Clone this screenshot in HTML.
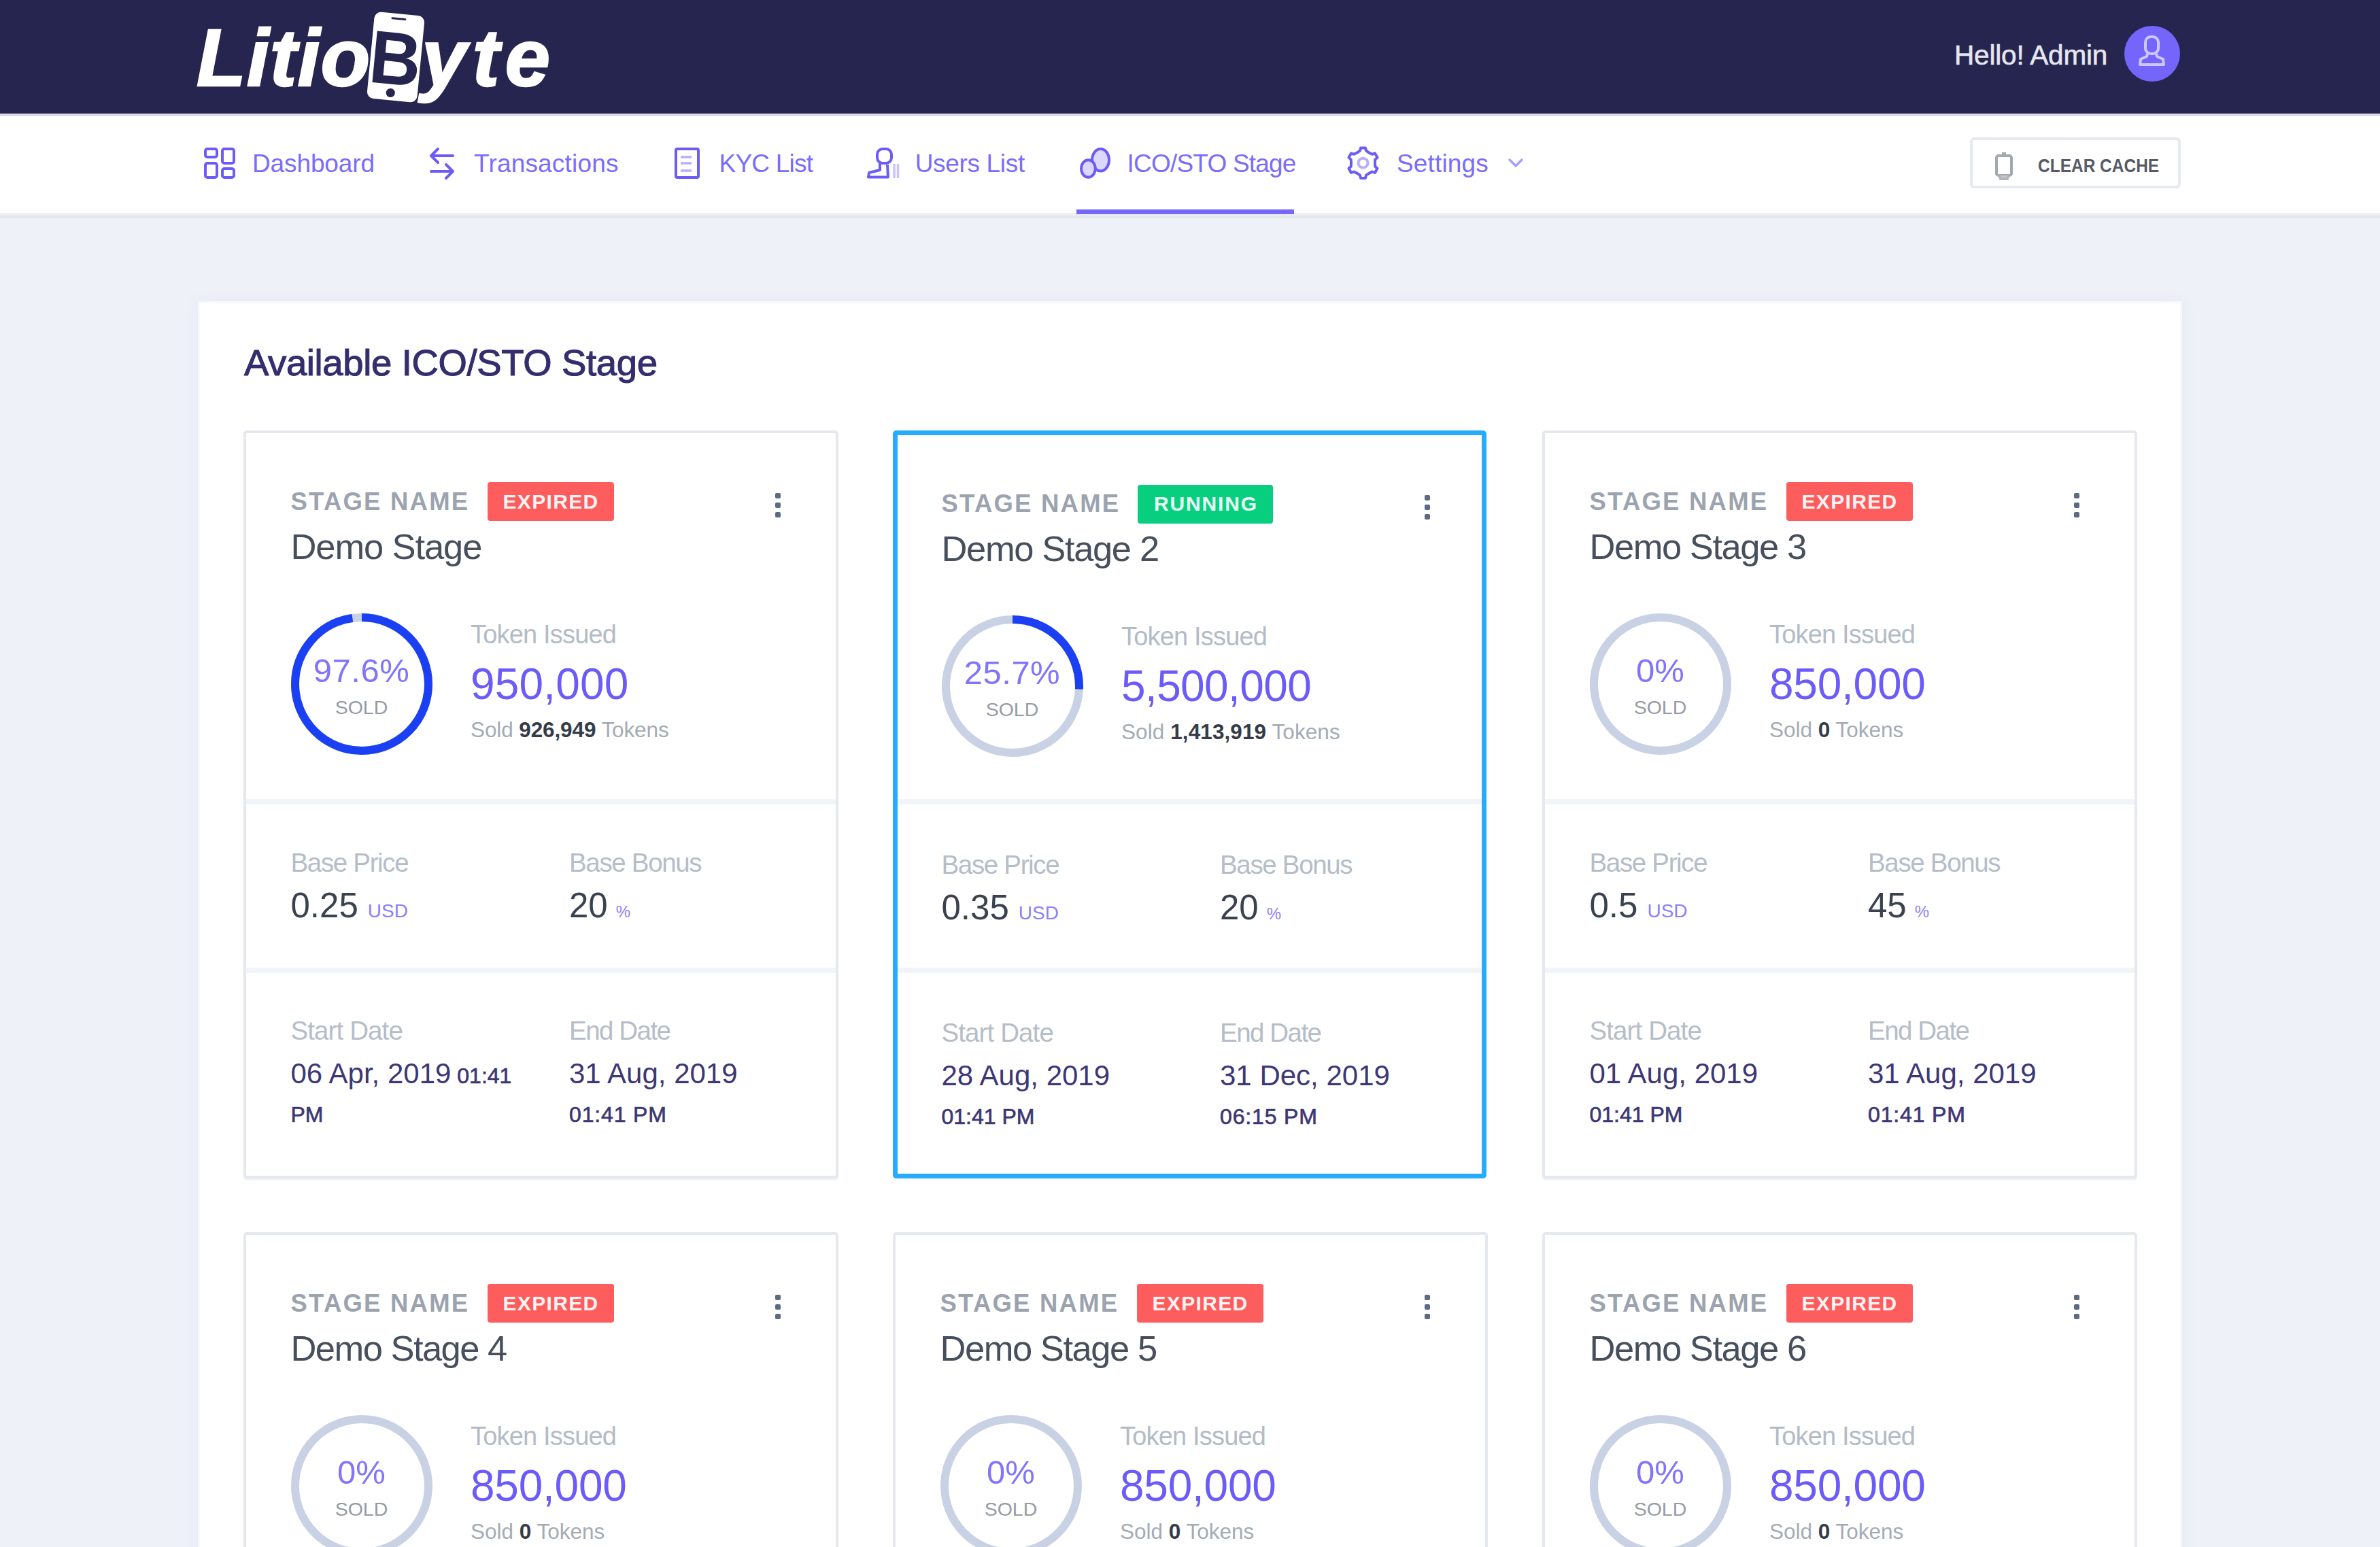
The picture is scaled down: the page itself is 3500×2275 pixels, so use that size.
<!DOCTYPE html>
<html><head><meta charset="utf-8"><title>ICO/STO Stage</title>
<style>
html,body{margin:0;padding:0}
body{width:3500px;height:2275px;overflow:hidden;position:relative;background:#eef1f8;font-family:"Liberation Sans",Arial,sans-serif}
.t{position:absolute;white-space:nowrap;line-height:1}
.t b{font-weight:700}
.logo{position:absolute;white-space:nowrap;line-height:1;font-family:"Liberation Sans",Arial,sans-serif;font-weight:700;font-style:italic;color:#fff;font-size:119px;letter-spacing:0px}
svg{overflow:visible}
</style></head><body>
<div style="position:absolute;left:0;top:0;width:3500px;height:167px;background:#25254f"></div>
<div style="position:absolute;left:0;top:167px;width:3500px;height:4px;background:#dcdbe2"></div>
<div style="position:absolute;left:0;top:171px;width:3500px;height:142px;background:#fff"></div>
<div style="position:absolute;left:0;top:313px;width:3500px;height:4px;background:#edeff4"></div>
<div style="position:absolute;left:0;top:317px;width:3500px;height:4px;background:#e4e6ec"></div>
<div class="t" id="lg1" style="left:289.0px;top:25.3px;font-size:119px;color:#fff;letter-spacing:1.000px;font-weight:700;font-style:italic;-webkit-text-stroke:2.5px #fff;">Litio</div>
<svg style="position:absolute;left:532px;top:12px" width="100" height="144" viewBox="0 0 100 144">
 <g transform="rotate(5.5 50 72)">
  <rect x="13" y="8" width="74" height="128" rx="10" fill="#fff"/>
  <rect x="38" y="14" width="22" height="3" rx="1.5" fill="#25254f"/>
  <circle cx="47.3" cy="125" r="6.6" fill="#25254f"/>
  <text x="50" y="112" text-anchor="middle" font-family="Liberation Sans, sans-serif" font-weight="700" font-size="110" fill="#25254f" transform="scale(0.95 1)" style="transform-origin:50px 72px">B</text>
 </g>
</svg>
<div class="t" id="lg2" style="left:620.0px;top:25.3px;font-size:119px;color:#fff;letter-spacing:8.500px;font-weight:700;font-style:italic;-webkit-text-stroke:2.5px #fff;">yte</div>
<div class="t" id="hello" style="left:2874.0px;top:60.7px;font-size:40.5px;color:#e6e6ef;letter-spacing:-0.182px;-webkit-text-stroke:0.6px #e6e6ef;">Hello! Admin</div>
<div style="position:absolute;left:3124px;top:38px;width:82px;height:82px;border-radius:50%;background:#7466fb"></div>
<svg style="position:absolute;left:3124px;top:38px" width="82" height="82" viewBox="0 0 82 82">
 <rect x="31" y="16" width="19" height="25" rx="8" fill="none" stroke="#cdc8ff" stroke-width="4"/>
 <path d="M34 41 L33 45 L24 49 L23 57 L58 57 L57 49 L48 45 L47 41" fill="none" stroke="#cdc8ff" stroke-width="4" stroke-linejoin="round"/>
</svg>
<div class="t" id="n_dash" style="left:371.0px;top:221.7px;font-size:37px;color:#7a6cfc;letter-spacing:-0.125px;">Dashboard</div>
<div class="t" id="n_tran" style="left:697.0px;top:221.7px;font-size:37px;color:#7a6cfc;letter-spacing:0.182px;">Transactions</div>
<div class="t" id="n_kyc" style="left:1057.5px;top:221.7px;font-size:37px;color:#7a6cfc;letter-spacing:-0.786px;">KYC List</div>
<div class="t" id="n_user" style="left:1345.7px;top:221.7px;font-size:37px;color:#7a6cfc;letter-spacing:-0.333px;">Users List</div>
<div class="t" id="n_ico" style="left:1657.5px;top:221.7px;font-size:37px;color:#7a6cfc;letter-spacing:-0.792px;">ICO/STO Stage</div>
<div class="t" id="n_set" style="left:2054.0px;top:221.7px;font-size:37px;color:#7a6cfc;letter-spacing:0.143px;">Settings</div>
<svg style="position:absolute;left:290px;top:205px" width="70" height="70" viewBox="0 0 70 70" fill="none" stroke="#6c5cf7" stroke-width="4">
 <rect x="12" y="14" width="17" height="12" rx="3"/>
 <rect x="37" y="14" width="17" height="21" rx="3"/>
 <rect x="12" y="35" width="17" height="21" rx="3"/>
 <rect x="37" y="43" width="17" height="13" rx="3"/>
</svg>
<svg style="position:absolute;left:620px;top:205px" width="60" height="70" viewBox="0 0 60 70" fill="none" stroke="#6c5cf7" stroke-width="4" stroke-linecap="round" stroke-linejoin="round">
 <path d="M15 24 H46"/><path d="M24 14 L14 24 L24 34"/>
 <path d="M14 47 H45"/><path d="M36 37 L46 47 L36 57"/>
</svg>
<svg style="position:absolute;left:980px;top:205px" width="60" height="70" viewBox="0 0 60 70" fill="none" stroke="#6c5cf7" stroke-width="4">
 <rect x="14" y="14" width="33" height="42" rx="2"/>
 <path d="M21 26 H37 M21 35 H37 M21 46 H37" stroke="#b7affc" stroke-width="3.5"/>
</svg>
<svg style="position:absolute;left:1265px;top:205px" width="70" height="70" viewBox="0 0 70 70" fill="none" stroke="#6c5cf7" stroke-width="4" stroke-linejoin="round">
 <rect x="25" y="14" width="21" height="21" rx="8"/>
 <path d="M29 35 L29 45 L13 49 L12 55.5 L41 55.5 L40 37"/>
 <path d="M50 36 V57 M55.5 36 V57" stroke="#c9c3fd" stroke-width="3.5"/>
</svg>
<svg style="position:absolute;left:1575px;top:205px" width="70" height="70" viewBox="0 0 70 70" stroke="#6c5cf7" stroke-width="4">
 <ellipse cx="43.5" cy="30.3" rx="12.5" ry="16.3" fill="#dcd8fd"/>
 <ellipse cx="25.4" cy="43" rx="10.4" ry="12.7" fill="#dcd8fd"/>
</svg>
<svg style="position:absolute;left:1975px;top:205px" width="60" height="70" viewBox="0 0 60 70" fill="none" stroke="#6c5cf7" stroke-width="4" stroke-linejoin="round">
 <path d="M20.8 19.5 L25.0 16.7 L26.0 12.5 L33.0 12.5 L34.0 16.7 L38.2 19.5 L42.8 21.8 L47.0 20.5 L50.5 26.6 L47.3 29.6 L47.0 34.7 L47.3 39.8 L50.5 42.8 L47.0 48.9 L42.8 47.6 L38.2 49.9 L34.0 52.7 L33.0 56.9 L26.0 56.9 L25.0 52.7 L20.8 49.9 L16.2 47.6 L12.0 48.9 L8.5 42.8 L11.7 39.8 L12.0 34.7 L11.7 29.6 L8.5 26.6 L12.0 20.5 L16.2 21.8 Z"/>
 <circle cx="29.5" cy="34.7" r="7" stroke="#b7affc"/>
</svg>
<svg style="position:absolute;left:2210px;top:225px" width="40" height="30" viewBox="0 0 40 30" fill="none" stroke="#a79ffc" stroke-width="3.5" stroke-linecap="round" stroke-linejoin="round">
 <path d="M10 10 L19 19 L28 10"/>
</svg>
<div style="position:absolute;left:1583px;top:308px;width:320px;height:7px;background:#7568fd"></div>
<div style="position:absolute;left:2897px;top:202px;width:310px;height:75px;box-sizing:border-box;border:4px solid #e6e9ef;border-radius:6px;background:#fff"></div>
<svg style="position:absolute;left:2920px;top:215px" width="60" height="60" viewBox="0 0 60 60" fill="none" stroke="#a3a8b0" stroke-width="4">
 <rect x="16" y="14" width="22" height="29" rx="3"/>
 <path d="M24 11 H30" stroke-width="4"/>
 <path d="M20 43 L22 48 H32 L34 43" fill="#c4c7cc" stroke="#b3b7bd"/>
</svg>
<div class="t" id="cc" style="left:2997.0px;top:230.2px;font-size:27.5px;color:#555b66;font-weight:700;transform:scaleX(0.89);transform-origin:0 0;">CLEAR CACHE</div>
<div style="position:absolute;left:294px;top:446px;width:2912px;height:1900px;background:#fff;box-shadow:0 0 0 3px #f6f8fb,0 0 24px 4px rgba(60,80,110,0.045)"></div>
<div class="t" id="title" style="left:359.0px;top:507.4px;font-size:54.5px;color:#342d6e;letter-spacing:-0.364px;-webkit-text-stroke:1.1px #342d6e;">Available ICO/STO Stage</div>
<div style="position:absolute;left:358px;top:633px;width:875px;height:1100px;box-sizing:border-box;border:4px solid #e5e8ee;border-radius:5px;background:#fff;box-shadow:0 3px 0 #eff2f6"></div>
<div style="position:absolute;left:362px;top:1175px;width:867px;height:8px;background:#f1f5fa"></div>
<div style="position:absolute;left:362px;top:1423px;width:867px;height:8px;background:#f1f5fa"></div>
<div class="t" id="c0sn" style="left:427.5px;top:719.6px;font-size:36.5px;color:#9ba3af;font-weight:700;letter-spacing:2.222px;">STAGE NAME</div>
<div style="position:absolute;left:717px;top:709px;width:186px;height:57px;background:#fd5d5d;border-radius:4px"></div>
<div class="t" id="c0bd" style="left:739.5px;top:723.1px;font-size:30px;color:#fff3f3;font-weight:700;letter-spacing:1.333px;">EXPIRED</div>
<div style="position:absolute;left:1140px;top:725px;width:8px;height:8px;border-radius:2px;background:#5d6b80"></div>
<div style="position:absolute;left:1140px;top:739px;width:8px;height:8px;border-radius:2px;background:#5d6b80"></div>
<div style="position:absolute;left:1140px;top:753px;width:8px;height:8px;border-radius:2px;background:#5d6b80"></div>
<div class="t" id="c0nm" style="left:427.5px;top:777.6px;font-size:52.5px;color:#474f5c;letter-spacing:-1.111px;">Demo Stage</div>
<svg style="position:absolute;left:426.5px;top:901.0px" width="210" height="210"><circle cx="105" cy="105" r="98" fill="none" stroke="#c9d1e4" stroke-width="12"/><circle cx="105" cy="105" r="98" fill="none" stroke="#1b40f4" stroke-width="12" stroke-dasharray="601.0 615.8" transform="rotate(-90 105 105)"/></svg>
<div class="t" id="c0pc" style="left:531.5px;top:962.2px;font-size:49px;color:#8274fb;letter-spacing:0.500px;transform:translateX(-50%);">97.6%</div>
<div class="t" id="c0so" style="left:531.5px;top:1025.7px;font-size:28.5px;color:#959ba6;transform:translateX(-50%);">SOLD</div>
<div class="t" id="c0ti" style="left:692.0px;top:913.8px;font-size:38px;color:#b3bbc6;letter-spacing:-0.818px;">Token Issued</div>
<div class="t" id="c0is" style="left:692.0px;top:973.5px;font-size:64px;color:#6b5bf8;letter-spacing:0.167px;">950,000</div>
<div class="t" id="c0sl" style="left:692.0px;top:1058.3px;font-size:31.5px;color:#a4abb5;letter-spacing:-0.111px;">Sold <b style="color:#353c48">926,949</b> Tokens</div>
<div class="t" id="c0bp" style="left:427.5px;top:1250.4px;font-size:38.5px;color:#b5bdc8;letter-spacing:-1.333px;">Base Price</div>
<div class="t" id="c0pr" style="left:427.5px;top:1305.8px;font-size:51px;color:#3b424f;">0.25<span style="font-size:28px;color:#8d80fc;margin-left:14px">USD</span></div>
<div class="t" id="c0bb" style="left:837.0px;top:1250.4px;font-size:38.5px;color:#b5bdc8;letter-spacing:-1.333px;">Base Bonus</div>
<div class="t" id="c0bo" style="left:837.0px;top:1305.8px;font-size:51px;color:#3b424f;">20<span style="font-size:24px;color:#8d80fc;margin-left:12px">%</span></div>
<div class="t" id="c0sdl" style="left:427.5px;top:1497.4px;font-size:38.5px;color:#b5bdc8;letter-spacing:-0.889px;">Start Date</div>
<div class="t" id="c0edl" style="left:837.0px;top:1497.4px;font-size:38.5px;color:#b5bdc8;letter-spacing:-1.500px;">End Date</div>
<div class="t" id="c0sd" style="left:427.5px;top:1558.4px;font-size:42px;color:#3d3775;">06 Apr, 2019<span style="font-size:32px;-webkit-text-stroke:0.7px #3d3775"> 01:41</span></div>
<div class="t" id="c0st2" style="left:427.5px;top:1622.9px;font-size:32px;color:#3d3775;-webkit-text-stroke:0.7px #3d3775;">PM</div>
<div class="t" id="c0ed" style="left:837.0px;top:1558.4px;font-size:42px;color:#3d3775;">31 Aug, 2019</div>
<div class="t" id="c0et" style="left:837.0px;top:1622.9px;font-size:32px;color:#3d3775;letter-spacing:0.857px;-webkit-text-stroke:0.7px #3d3775;">01:41 PM</div>
<div style="position:absolute;left:1313px;top:633px;width:873px;height:1100px;box-sizing:border-box;border:7px solid #27abfc;border-radius:5px;background:#fff"></div>
<div style="position:absolute;left:1320px;top:1175px;width:859px;height:8px;background:#f1f5fa"></div>
<div style="position:absolute;left:1320px;top:1423px;width:859px;height:8px;background:#f1f5fa"></div>
<div class="t" id="c1sn" style="left:1384.5px;top:722.6px;font-size:36.5px;color:#9ba3af;font-weight:700;letter-spacing:2.222px;">STAGE NAME</div>
<div style="position:absolute;left:1673px;top:713px;width:199px;height:57px;background:#08cf80;border-radius:4px"></div>
<div class="t" id="c1bd" style="left:1697.0px;top:726.1px;font-size:30px;color:#e9fff4;font-weight:700;letter-spacing:1.833px;">RUNNING</div>
<div style="position:absolute;left:2095px;top:728px;width:8px;height:8px;border-radius:2px;background:#5d6b80"></div>
<div style="position:absolute;left:2095px;top:742px;width:8px;height:8px;border-radius:2px;background:#5d6b80"></div>
<div style="position:absolute;left:2095px;top:756px;width:8px;height:8px;border-radius:2px;background:#5d6b80"></div>
<div class="t" id="c1nm" style="left:1384.5px;top:780.6px;font-size:52.5px;color:#474f5c;letter-spacing:-1.364px;">Demo Stage 2</div>
<svg style="position:absolute;left:1383.5px;top:904.0px" width="210" height="210"><circle cx="105" cy="105" r="98" fill="none" stroke="#c9d1e4" stroke-width="12"/><circle cx="105" cy="105" r="98" fill="none" stroke="#1b40f4" stroke-width="12" stroke-dasharray="158.2 615.8" transform="rotate(-90 105 105)"/></svg>
<div class="t" id="c1pc" style="left:1488.5px;top:965.2px;font-size:49px;color:#8274fb;letter-spacing:0.475px;transform:translateX(-50%);">25.7%</div>
<div class="t" id="c1so" style="left:1488.5px;top:1028.7px;font-size:28.5px;color:#959ba6;transform:translateX(-50%);">SOLD</div>
<div class="t" id="c1ti" style="left:1649.0px;top:916.8px;font-size:38px;color:#b3bbc6;letter-spacing:-0.818px;">Token Issued</div>
<div class="t" id="c1is" style="left:1649.0px;top:976.5px;font-size:64px;color:#6b5bf8;letter-spacing:-0.625px;">5,500,000</div>
<div class="t" id="c1sl" style="left:1649.0px;top:1061.3px;font-size:31.5px;color:#a4abb5;letter-spacing:0.090px;">Sold <b style="color:#353c48">1,413,919</b> Tokens</div>
<div class="t" id="c1bp" style="left:1384.5px;top:1253.4px;font-size:38.5px;color:#b5bdc8;letter-spacing:-1.333px;">Base Price</div>
<div class="t" id="c1pr" style="left:1384.5px;top:1308.8px;font-size:51px;color:#3b424f;">0.35<span style="font-size:28px;color:#8d80fc;margin-left:14px">USD</span></div>
<div class="t" id="c1bb" style="left:1794.0px;top:1253.4px;font-size:38.5px;color:#b5bdc8;letter-spacing:-1.333px;">Base Bonus</div>
<div class="t" id="c1bo" style="left:1794.0px;top:1308.8px;font-size:51px;color:#3b424f;">20<span style="font-size:24px;color:#8d80fc;margin-left:12px">%</span></div>
<div class="t" id="c1sdl" style="left:1384.5px;top:1500.4px;font-size:38.5px;color:#b5bdc8;letter-spacing:-0.889px;">Start Date</div>
<div class="t" id="c1edl" style="left:1794.0px;top:1500.4px;font-size:38.5px;color:#b5bdc8;letter-spacing:-1.500px;">End Date</div>
<div class="t" id="c1sd" style="left:1384.5px;top:1561.4px;font-size:42px;color:#3d3775;">28 Aug, 2019</div>
<div class="t" id="c1st2" style="left:1384.5px;top:1625.9px;font-size:32px;color:#3d3775;-webkit-text-stroke:0.7px #3d3775;">01:41 PM</div>
<div class="t" id="c1ed" style="left:1794.0px;top:1561.4px;font-size:42px;color:#3d3775;">31 Dec, 2019</div>
<div class="t" id="c1et" style="left:1794.0px;top:1625.9px;font-size:32px;color:#3d3775;letter-spacing:0.857px;-webkit-text-stroke:0.7px #3d3775;">06:15 PM</div>
<div style="position:absolute;left:2268px;top:633px;width:875px;height:1100px;box-sizing:border-box;border:4px solid #e5e8ee;border-radius:5px;background:#fff;box-shadow:0 3px 0 #eff2f6"></div>
<div style="position:absolute;left:2272px;top:1175px;width:867px;height:8px;background:#f1f5fa"></div>
<div style="position:absolute;left:2272px;top:1423px;width:867px;height:8px;background:#f1f5fa"></div>
<div class="t" id="c2sn" style="left:2337.5px;top:719.6px;font-size:36.5px;color:#9ba3af;font-weight:700;letter-spacing:2.222px;">STAGE NAME</div>
<div style="position:absolute;left:2627px;top:709px;width:186px;height:57px;background:#fd5d5d;border-radius:4px"></div>
<div class="t" id="c2bd" style="left:2649.5px;top:723.1px;font-size:30px;color:#fff3f3;font-weight:700;letter-spacing:1.333px;">EXPIRED</div>
<div style="position:absolute;left:3050px;top:725px;width:8px;height:8px;border-radius:2px;background:#5d6b80"></div>
<div style="position:absolute;left:3050px;top:739px;width:8px;height:8px;border-radius:2px;background:#5d6b80"></div>
<div style="position:absolute;left:3050px;top:753px;width:8px;height:8px;border-radius:2px;background:#5d6b80"></div>
<div class="t" id="c2nm" style="left:2337.5px;top:777.6px;font-size:52.5px;color:#474f5c;letter-spacing:-1.455px;">Demo Stage 3</div>
<svg style="position:absolute;left:2336.5px;top:901.0px" width="210" height="210"><circle cx="105" cy="105" r="98" fill="none" stroke="#c9d1e4" stroke-width="12"/></svg>
<div class="t" id="c2pc" style="left:2441.5px;top:962.2px;font-size:49px;color:#8274fb;transform:translateX(-50%);">0%</div>
<div class="t" id="c2so" style="left:2441.5px;top:1025.7px;font-size:28.5px;color:#959ba6;transform:translateX(-50%);">SOLD</div>
<div class="t" id="c2ti" style="left:2602.0px;top:913.8px;font-size:38px;color:#b3bbc6;letter-spacing:-0.818px;">Token Issued</div>
<div class="t" id="c2is" style="left:2602.0px;top:973.5px;font-size:64px;color:#6b5bf8;letter-spacing:-0.250px;">850,000</div>
<div class="t" id="c2sl" style="left:2602.0px;top:1058.3px;font-size:31.5px;color:#a4abb5;">Sold <b style="color:#353c48">0</b> Tokens</div>
<div class="t" id="c2bp" style="left:2337.5px;top:1250.4px;font-size:38.5px;color:#b5bdc8;letter-spacing:-1.333px;">Base Price</div>
<div class="t" id="c2pr" style="left:2337.5px;top:1305.8px;font-size:51px;color:#3b424f;">0.5<span style="font-size:28px;color:#8d80fc;margin-left:14px">USD</span></div>
<div class="t" id="c2bb" style="left:2747.0px;top:1250.4px;font-size:38.5px;color:#b5bdc8;letter-spacing:-1.333px;">Base Bonus</div>
<div class="t" id="c2bo" style="left:2747.0px;top:1305.8px;font-size:51px;color:#3b424f;">45<span style="font-size:24px;color:#8d80fc;margin-left:12px">%</span></div>
<div class="t" id="c2sdl" style="left:2337.5px;top:1497.4px;font-size:38.5px;color:#b5bdc8;letter-spacing:-0.889px;">Start Date</div>
<div class="t" id="c2edl" style="left:2747.0px;top:1497.4px;font-size:38.5px;color:#b5bdc8;letter-spacing:-1.500px;">End Date</div>
<div class="t" id="c2sd" style="left:2337.5px;top:1558.4px;font-size:42px;color:#3d3775;">01 Aug, 2019</div>
<div class="t" id="c2st2" style="left:2337.5px;top:1622.9px;font-size:32px;color:#3d3775;-webkit-text-stroke:0.7px #3d3775;">01:41 PM</div>
<div class="t" id="c2ed" style="left:2747.0px;top:1558.4px;font-size:42px;color:#3d3775;">31 Aug, 2019</div>
<div class="t" id="c2et" style="left:2747.0px;top:1622.9px;font-size:32px;color:#3d3775;letter-spacing:0.857px;-webkit-text-stroke:0.7px #3d3775;">01:41 PM</div>
<div style="position:absolute;left:358px;top:1812px;width:875px;height:1100px;box-sizing:border-box;border:4px solid #e5e8ee;border-radius:5px;background:#fff;box-shadow:0 3px 0 #eff2f6"></div>
<div style="position:absolute;left:362px;top:2354px;width:867px;height:8px;background:#f1f5fa"></div>
<div style="position:absolute;left:362px;top:2602px;width:867px;height:8px;background:#f1f5fa"></div>
<div class="t" id="c3sn" style="left:427.5px;top:1898.6px;font-size:36.5px;color:#9ba3af;font-weight:700;letter-spacing:2.222px;">STAGE NAME</div>
<div style="position:absolute;left:717px;top:1888px;width:186px;height:57px;background:#fd5d5d;border-radius:4px"></div>
<div class="t" id="c3bd" style="left:739.5px;top:1902.1px;font-size:30px;color:#fff3f3;font-weight:700;letter-spacing:1.333px;">EXPIRED</div>
<div style="position:absolute;left:1140px;top:1904px;width:8px;height:8px;border-radius:2px;background:#5d6b80"></div>
<div style="position:absolute;left:1140px;top:1918px;width:8px;height:8px;border-radius:2px;background:#5d6b80"></div>
<div style="position:absolute;left:1140px;top:1932px;width:8px;height:8px;border-radius:2px;background:#5d6b80"></div>
<div class="t" id="c3nm" style="left:427.5px;top:1956.6px;font-size:52.5px;color:#474f5c;letter-spacing:-1.545px;">Demo Stage 4</div>
<svg style="position:absolute;left:426.5px;top:2080.0px" width="210" height="210"><circle cx="105" cy="105" r="98" fill="none" stroke="#c9d1e4" stroke-width="12"/></svg>
<div class="t" id="c3pc" style="left:531.5px;top:2141.2px;font-size:49px;color:#8274fb;transform:translateX(-50%);">0%</div>
<div class="t" id="c3so" style="left:531.5px;top:2204.7px;font-size:28.5px;color:#959ba6;transform:translateX(-50%);">SOLD</div>
<div class="t" id="c3ti" style="left:692.0px;top:2092.8px;font-size:38px;color:#b3bbc6;letter-spacing:-0.818px;">Token Issued</div>
<div class="t" id="c3is" style="left:692.0px;top:2152.5px;font-size:64px;color:#6b5bf8;letter-spacing:-0.250px;">850,000</div>
<div class="t" id="c3sl" style="left:692.0px;top:2237.3px;font-size:31.5px;color:#a4abb5;">Sold <b style="color:#353c48">0</b> Tokens</div>
<div class="t" id="c3bp" style="left:427.5px;top:2429.4px;font-size:38.5px;color:#b5bdc8;">Base Price</div>
<div class="t" id="c3pr" style="left:427.5px;top:2484.8px;font-size:51px;color:#3b424f;">0.5<span style="font-size:28px;color:#8d80fc;margin-left:14px">USD</span></div>
<div class="t" id="c3bb" style="left:837.0px;top:2429.4px;font-size:38.5px;color:#b5bdc8;">Base Bonus</div>
<div class="t" id="c3bo" style="left:837.0px;top:2484.8px;font-size:51px;color:#3b424f;">45<span style="font-size:24px;color:#8d80fc;margin-left:12px">%</span></div>
<div class="t" id="c3sdl" style="left:427.5px;top:2676.4px;font-size:38.5px;color:#b5bdc8;">Start Date</div>
<div class="t" id="c3edl" style="left:837.0px;top:2676.4px;font-size:38.5px;color:#b5bdc8;">End Date</div>
<div class="t" id="c3sd" style="left:427.5px;top:2737.4px;font-size:42px;color:#3d3775;">01 Aug, 2019</div>
<div class="t" id="c3st2" style="left:427.5px;top:2801.9px;font-size:32px;color:#3d3775;-webkit-text-stroke:0.7px #3d3775;">01:41 PM</div>
<div class="t" id="c3ed" style="left:837.0px;top:2737.4px;font-size:42px;color:#3d3775;">31 Aug, 2019</div>
<div class="t" id="c3et" style="left:837.0px;top:2801.9px;font-size:32px;color:#3d3775;-webkit-text-stroke:0.7px #3d3775;">01:41 PM</div>
<div style="position:absolute;left:1313px;top:1812px;width:875px;height:1100px;box-sizing:border-box;border:4px solid #e5e8ee;border-radius:5px;background:#fff;box-shadow:0 3px 0 #eff2f6"></div>
<div style="position:absolute;left:1317px;top:2354px;width:867px;height:8px;background:#f1f5fa"></div>
<div style="position:absolute;left:1317px;top:2602px;width:867px;height:8px;background:#f1f5fa"></div>
<div class="t" id="c4sn" style="left:1382.5px;top:1898.6px;font-size:36.5px;color:#9ba3af;font-weight:700;letter-spacing:2.222px;">STAGE NAME</div>
<div style="position:absolute;left:1672px;top:1888px;width:186px;height:57px;background:#fd5d5d;border-radius:4px"></div>
<div class="t" id="c4bd" style="left:1694.5px;top:1902.1px;font-size:30px;color:#fff3f3;font-weight:700;letter-spacing:1.333px;">EXPIRED</div>
<div style="position:absolute;left:2095px;top:1904px;width:8px;height:8px;border-radius:2px;background:#5d6b80"></div>
<div style="position:absolute;left:2095px;top:1918px;width:8px;height:8px;border-radius:2px;background:#5d6b80"></div>
<div style="position:absolute;left:2095px;top:1932px;width:8px;height:8px;border-radius:2px;background:#5d6b80"></div>
<div class="t" id="c4nm" style="left:1382.5px;top:1956.6px;font-size:52.5px;color:#474f5c;letter-spacing:-1.455px;">Demo Stage 5</div>
<svg style="position:absolute;left:1381.5px;top:2080.0px" width="210" height="210"><circle cx="105" cy="105" r="98" fill="none" stroke="#c9d1e4" stroke-width="12"/></svg>
<div class="t" id="c4pc" style="left:1486.5px;top:2141.2px;font-size:49px;color:#8274fb;transform:translateX(-50%);">0%</div>
<div class="t" id="c4so" style="left:1486.5px;top:2204.7px;font-size:28.5px;color:#959ba6;transform:translateX(-50%);">SOLD</div>
<div class="t" id="c4ti" style="left:1647.0px;top:2092.8px;font-size:38px;color:#b3bbc6;letter-spacing:-0.818px;">Token Issued</div>
<div class="t" id="c4is" style="left:1647.0px;top:2152.5px;font-size:64px;color:#6b5bf8;letter-spacing:-0.250px;">850,000</div>
<div class="t" id="c4sl" style="left:1647.0px;top:2237.3px;font-size:31.5px;color:#a4abb5;">Sold <b style="color:#353c48">0</b> Tokens</div>
<div class="t" id="c4bp" style="left:1382.5px;top:2429.4px;font-size:38.5px;color:#b5bdc8;">Base Price</div>
<div class="t" id="c4pr" style="left:1382.5px;top:2484.8px;font-size:51px;color:#3b424f;">0.5<span style="font-size:28px;color:#8d80fc;margin-left:14px">USD</span></div>
<div class="t" id="c4bb" style="left:1792.0px;top:2429.4px;font-size:38.5px;color:#b5bdc8;">Base Bonus</div>
<div class="t" id="c4bo" style="left:1792.0px;top:2484.8px;font-size:51px;color:#3b424f;">45<span style="font-size:24px;color:#8d80fc;margin-left:12px">%</span></div>
<div class="t" id="c4sdl" style="left:1382.5px;top:2676.4px;font-size:38.5px;color:#b5bdc8;">Start Date</div>
<div class="t" id="c4edl" style="left:1792.0px;top:2676.4px;font-size:38.5px;color:#b5bdc8;">End Date</div>
<div class="t" id="c4sd" style="left:1382.5px;top:2737.4px;font-size:42px;color:#3d3775;">01 Aug, 2019</div>
<div class="t" id="c4st2" style="left:1382.5px;top:2801.9px;font-size:32px;color:#3d3775;-webkit-text-stroke:0.7px #3d3775;">01:41 PM</div>
<div class="t" id="c4ed" style="left:1792.0px;top:2737.4px;font-size:42px;color:#3d3775;">31 Aug, 2019</div>
<div class="t" id="c4et" style="left:1792.0px;top:2801.9px;font-size:32px;color:#3d3775;-webkit-text-stroke:0.7px #3d3775;">01:41 PM</div>
<div style="position:absolute;left:2268px;top:1812px;width:875px;height:1100px;box-sizing:border-box;border:4px solid #e5e8ee;border-radius:5px;background:#fff;box-shadow:0 3px 0 #eff2f6"></div>
<div style="position:absolute;left:2272px;top:2354px;width:867px;height:8px;background:#f1f5fa"></div>
<div style="position:absolute;left:2272px;top:2602px;width:867px;height:8px;background:#f1f5fa"></div>
<div class="t" id="c5sn" style="left:2337.5px;top:1898.6px;font-size:36.5px;color:#9ba3af;font-weight:700;letter-spacing:2.222px;">STAGE NAME</div>
<div style="position:absolute;left:2627px;top:1888px;width:186px;height:57px;background:#fd5d5d;border-radius:4px"></div>
<div class="t" id="c5bd" style="left:2649.5px;top:1902.1px;font-size:30px;color:#fff3f3;font-weight:700;letter-spacing:1.333px;">EXPIRED</div>
<div style="position:absolute;left:3050px;top:1904px;width:8px;height:8px;border-radius:2px;background:#5d6b80"></div>
<div style="position:absolute;left:3050px;top:1918px;width:8px;height:8px;border-radius:2px;background:#5d6b80"></div>
<div style="position:absolute;left:3050px;top:1932px;width:8px;height:8px;border-radius:2px;background:#5d6b80"></div>
<div class="t" id="c5nm" style="left:2337.5px;top:1956.6px;font-size:52.5px;color:#474f5c;letter-spacing:-1.455px;">Demo Stage 6</div>
<svg style="position:absolute;left:2336.5px;top:2080.0px" width="210" height="210"><circle cx="105" cy="105" r="98" fill="none" stroke="#c9d1e4" stroke-width="12"/></svg>
<div class="t" id="c5pc" style="left:2441.5px;top:2141.2px;font-size:49px;color:#8274fb;transform:translateX(-50%);">0%</div>
<div class="t" id="c5so" style="left:2441.5px;top:2204.7px;font-size:28.5px;color:#959ba6;transform:translateX(-50%);">SOLD</div>
<div class="t" id="c5ti" style="left:2602.0px;top:2092.8px;font-size:38px;color:#b3bbc6;letter-spacing:-0.818px;">Token Issued</div>
<div class="t" id="c5is" style="left:2602.0px;top:2152.5px;font-size:64px;color:#6b5bf8;letter-spacing:-0.250px;">850,000</div>
<div class="t" id="c5sl" style="left:2602.0px;top:2237.3px;font-size:31.5px;color:#a4abb5;">Sold <b style="color:#353c48">0</b> Tokens</div>
<div class="t" id="c5bp" style="left:2337.5px;top:2429.4px;font-size:38.5px;color:#b5bdc8;">Base Price</div>
<div class="t" id="c5pr" style="left:2337.5px;top:2484.8px;font-size:51px;color:#3b424f;">0.5<span style="font-size:28px;color:#8d80fc;margin-left:14px">USD</span></div>
<div class="t" id="c5bb" style="left:2747.0px;top:2429.4px;font-size:38.5px;color:#b5bdc8;">Base Bonus</div>
<div class="t" id="c5bo" style="left:2747.0px;top:2484.8px;font-size:51px;color:#3b424f;">45<span style="font-size:24px;color:#8d80fc;margin-left:12px">%</span></div>
<div class="t" id="c5sdl" style="left:2337.5px;top:2676.4px;font-size:38.5px;color:#b5bdc8;">Start Date</div>
<div class="t" id="c5edl" style="left:2747.0px;top:2676.4px;font-size:38.5px;color:#b5bdc8;">End Date</div>
<div class="t" id="c5sd" style="left:2337.5px;top:2737.4px;font-size:42px;color:#3d3775;">01 Aug, 2019</div>
<div class="t" id="c5st2" style="left:2337.5px;top:2801.9px;font-size:32px;color:#3d3775;-webkit-text-stroke:0.7px #3d3775;">01:41 PM</div>
<div class="t" id="c5ed" style="left:2747.0px;top:2737.4px;font-size:42px;color:#3d3775;">31 Aug, 2019</div>
<div class="t" id="c5et" style="left:2747.0px;top:2801.9px;font-size:32px;color:#3d3775;-webkit-text-stroke:0.7px #3d3775;">01:41 PM</div>
</body></html>
